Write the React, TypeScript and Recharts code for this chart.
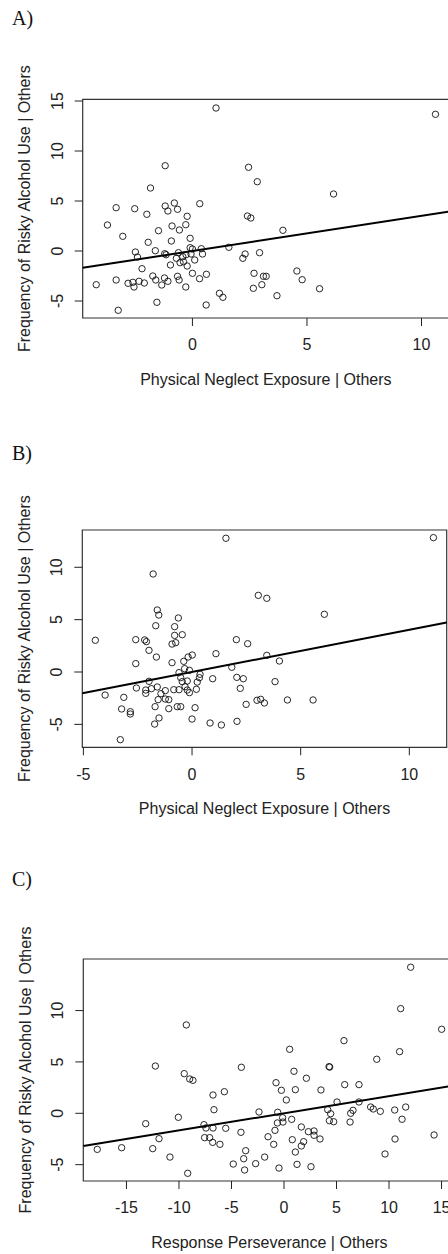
import { ScatterChart, Scatter, XAxis, YAxis, ReferenceLine, ReferenceArea } from "recharts"

const FONT = "'Liberation Sans', Arial, sans-serif"
const INK = "#222"

// A) risky alcohol use vs physical neglect exposure (added-variable plot)
const neglectA: [number, number][] = [
  [1.03, 14.3], [-1.19, 8.53], [2.45, 8.37], [2.83, 6.93], [-1.83, 6.3], [-3.33, 4.33], [-2.52, 4.23],
  [-1.19, 4.5], [-0.79, 4.8], [-1.07, 4.0], [-0.65, 4.17], [0.32, 4.73], [-1.99, 3.67], [-0.23, 3.47],
  [-3.71, 2.6], [-0.89, 2.5], [-0.29, 2.63], [-1.48, 2.03], [-0.57, 2.1], [-3.04, 1.47], [-0.1, 1.27],
  [-1.93, 0.87], [-0.92, 1.0], [-0.1, 0.33], [0, 0.2], [0.39, 0.23], [1.59, 0.37], [-2.49, -0.1],
  [-2.4, -0.6], [-1.62, 0.03], [-1.21, -0.27], [-1.15, -0.37], [-0.61, -0.17], [-0.7, -0.73],
  [-0.42, -0.57], [-0.28, -0.37], [-0.06, -0.3], [0.44, -0.3], [-0.54, -1.17], [-0.39, -1.07],
  [0.1, -0.9], [-0.96, -1.4], [-0.23, -1.5], [-2.2, -1.77], [0, -2.23], [0.61, -2.33], [-4.2, -3.37],
  [-3.33, -2.9], [-2.81, -3.23], [-2.6, -3.13], [-2.55, -3.6], [-2.33, -3.03], [-2.1, -3.2],
  [-1.73, -2.5], [-1.6, -2.9], [-1.34, -3.4], [-1.22, -2.7], [-1.07, -3.03], [-0.65, -2.53],
  [-0.58, -2.9], [-0.29, -3.6], [0.31, -2.77], [-1.55, -5.13], [-3.24, -5.93], [0.6, -5.4],
  [1.18, -4.23], [1.33, -4.63], [2.2, -0.73], [2.3, -0.3], [2.93, -0.17], [2.69, -2.23], [2.66, -3.73],
  [2.4, 3.5], [2.55, 3.3], [3.95, 2.07], [6.16, 5.7], [10.61, 13.67], [3.03, -3.37], [3.1, -2.53],
  [3.22, -2.53], [3.69, -4.47], [4.56, -2.0], [4.79, -2.87], [5.55, -3.77],
]

// B) same outcome, second model
const neglectB: [number, number][] = [
  [1.56, 12.77], [-1.79, 9.36], [-1.6, 5.92], [-1.53, 5.44], [-0.63, 5.16], [-1.67, 4.42], [-0.8, 4.33],
  [-0.8, 3.5], [-0.45, 3.56], [-0.92, 2.67], [-0.75, 2.8], [-4.45, 3.03], [-2.59, 3.09], [-2.18, 3.06],
  [-2.1, 2.9], [-1.98, 2.07], [-1.64, 1.43], [-2.59, 0.8], [-0.92, 0.89], [-0.38, 1.02], [-0.18, 1.43],
  [0.01, 1.62], [1.1, 1.75], [2.04, 3.09], [2.56, 2.7], [3.05, 7.32], [3.44, 7.04], [6.09, 5.51],
  [11.11, 12.83], [3.44, 1.59], [4.02, 1.05], [1.83, 0.45], [-0.6, -0.06], [-0.34, 0.32], [-0.12, 0.16],
  [0.37, -0.22], [0.34, -0.54], [0.24, -0.96], [-0.52, -0.54], [-0.45, -0.92], [-0.22, -0.86],
  [0.95, -0.64], [2.06, -0.51], [2.36, -0.64], [3.82, -0.92], [-1.98, -0.89], [-2.56, -1.53],
  [-2.13, -1.72], [-2.13, -2.04], [-1.87, -1.59], [-1.6, -1.43], [-1.43, -2.07], [-1.23, -1.78],
  [-0.84, -1.69], [-0.6, -1.69], [-0.32, -1.4], [-0.22, -1.72], [-0.12, -1.97], [0.2, -1.65],
  [2.22, -1.56], [-4.0, -2.2], [-3.14, -2.42], [-1.56, -2.64], [-1.23, -2.58], [-1.07, -2.64],
  [-3.24, -3.53], [-2.84, -3.79], [-2.84, -4.01], [-1.7, -3.31], [-1.07, -3.5], [-0.68, -3.31],
  [-0.52, -3.31], [0.14, -3.41], [-1.52, -4.39], [-1.72, -4.97], [0, -4.49], [0.83, -4.87],
  [1.35, -5.06], [2.07, -4.71], [2.49, -3.09], [2.99, -2.7], [3.16, -2.61], [3.33, -2.96],
  [4.39, -2.67], [5.57, -2.67], [-3.3, -6.46],
]

// C) risky alcohol use vs response perseverance
const persevC: [number, number][] = [
  [-9.3, 8.6], [-12.25, 4.6], [-4.06, 4.48], [-9.5, 3.86], [-8.98, 3.34], [-8.67, 3.21], [-6.76, 1.78],
  [-5.68, 2.1], [-6.67, 0.35], [-10.06, -0.39], [-13.17, -1.01], [-7.62, -1.11], [-7.43, -1.43],
  [-6.76, -1.43], [-5.55, -1.46], [-4.1, -1.85], [-2.38, 0.13], [-11.9, -2.47], [-7.56, -2.37],
  [-7.08, -2.37], [-6.79, -2.83], [-6.1, -3.02], [-17.78, -3.51], [-15.46, -3.35], [-12.5, -3.44],
  [-10.86, -4.26], [-3.65, -3.64], [-3.84, -4.42], [-4.83, -4.94], [-3.75, -5.52], [-2.7, -4.9],
  [-9.17, -5.84], [-1.84, -4.26], [-0.48, -5.33], [-0.98, -3.02], [-1.52, -2.28], [-0.86, -1.66],
  [-0.63, -0.94], [-0.6, 0.1], [-0.13, -0.43], [-0.1, -0.85], [0.22, 1.3], [-0.25, 2.24], [-0.76, 2.98],
  [1.08, 2.3], [2.13, 3.41], [0.73, -0.59], [0.79, -2.57], [1.65, -1.33], [2.32, -1.79], [2.86, -1.72],
  [2.86, -2.14], [1.87, -2.76], [1.65, -3.18], [3.43, -2.5], [1.08, -3.77], [1.24, -4.97], [2.57, -5.2],
  [3.52, 2.27], [5.05, 1.1], [5.78, 2.79], [7.14, 2.79], [7.14, 1.1], [4.16, 0.35], [4.44, -0.04],
  [4.32, -0.72], [4.73, -0.82], [6.35, 0], [6.57, 0.29], [6.29, -0.85], [8.25, 0.61], [8.5, 0.42],
  [9.17, 0.19], [10.54, 0.32], [11.59, 0.61], [11.24, -0.58], [10.57, -2.5], [9.62, -3.96],
  [14.29, -2.11], [12.06, 14.22], [11.11, 10.19], [15.01, 8.18], [0.54, 6.23], [5.71, 7.07],
  [11.01, 6.0], [8.83, 5.26], [4.29, 4.54], [4.35, 4.5], [0.95, 4.09],
]

// fitted slopes (intercept ~0 in added-variable plots)
const slopeA = 0.351
const slopeB = 0.4025
const slopeC = 0.1665

const xTicksA = [0, 5, 10]
const yTicksA = [-5, 0, 5, 10, 15]
const xTicksB = [-5, 0, 5, 10]
const yTicksB = [-5, 0, 5, 10]
const xTicksC = [-15, -10, -5, 0, 5, 10, 15]
const yTicksC = [-5, 0, 5, 10]

const Y_TITLE = "Frequency of Risky Alcohol Use | Others"

const ring = (p: any) => (
  <circle cx={p.cx} cy={p.cy} r={3.2} fill="none" stroke="#111" strokeWidth={0.9} />
)

const YTick = (p: any) => (
  <text
    x={p.x}
    y={p.y}
    transform={`rotate(-90 ${p.x} ${p.y})`}
    textAnchor="middle"
    fontSize={16}
    fill={INK}
    fontFamily={FONT}
  >
    {p.payload.value}
  </text>
)

interface Box { left: number; right: number; top: number; bottom: number }

interface PanelProps {
  letter: string
  letterBase: number
  top: number
  height: number
  box: Box
  xDomain: [number, number]
  yDomain: [number, number]
  xTicks: number[]
  yTicks: number[]
  points: [number, number][]
  slope: number
  xTitle: string
}

function Panel({ letter, letterBase, top, height, box, xDomain, yDomain, xTicks, yTicks, points, slope, xTitle }: PanelProps) {
  const W = 470
  const data = points.map(([x, y]) => ({ x, y }))
  const [x0, x1] = xDomain
  const [y0, y1] = yDomain
  const midY = (box.top + box.bottom) / 2 - top
  const midX = (box.left + box.right) / 2
  const xTitleY = box.bottom - top + 67

  return (
    <>
      <div
        style={{
          position: "absolute",
          left: 12,
          top: letterBase - 16.75,
          fontFamily: "'Liberation Serif', 'Times New Roman', serif",
          fontSize: 20,
          lineHeight: "20px",
          color: "#111",
        }}
      >
        {letter}
      </div>
      <div style={{ position: "absolute", left: 0, top, width: W, height }}>
        <ScatterChart
          width={W}
          height={height}
          margin={{ top: box.top - top, right: W - box.right, bottom: top + height - box.bottom - 30, left: 0 }}
        >
          <XAxis
            type="number"
            dataKey="x"
            domain={xDomain}
            ticks={xTicks}
            interval={0}
            allowDataOverflow
            axisLine={false}
            tickLine={{ stroke: INK }}
            tickSize={8}
            tickMargin={13}
            height={30}
            tick={{ fontSize: 16, fill: INK, fontFamily: FONT }}
            label={() => (
              <text x={midX} y={xTitleY} textAnchor="middle" fontSize={16} fill={INK} fontFamily={FONT}>
                {xTitle}
              </text>
            )}
          />
          <YAxis
            type="number"
            dataKey="y"
            domain={yDomain}
            ticks={yTicks}
            interval={0}
            allowDataOverflow
            axisLine={false}
            tickLine={{ stroke: INK }}
            tickSize={8}
            tickMargin={12}
            width={box.left}
            tick={YTick}
            label={() => (
              <text
                x={30.5}
                y={midY}
                transform={`rotate(-90 30.5 ${midY})`}
                textAnchor="middle"
                fontSize={16}
                fill={INK}
                fontFamily={FONT}
              >
                {Y_TITLE}
              </text>
            )}
          />
          <ReferenceArea x1={x0} x2={x1} y1={y0} y2={y1} fill="none" stroke="#333" strokeWidth={1.2} ifOverflow="visible" />
          <Scatter data={data} isAnimationActive={false} shape={ring} />
          <ReferenceLine
            segment={[{ x: x0, y: slope * x0 }, { x: x1, y: slope * x1 }]}
            stroke="#000"
            strokeWidth={2}
            ifOverflow="visible"
          />
        </ScatterChart>
      </div>
    </>
  )
}

export default function App() {
  return (
    <div
      style={{
        position: "absolute",
        left: 0,
        top: 0,
        width: 448,
        height: 1254,
        overflow: "hidden",
        background: "#fff",
      }}
    >
      <Panel
        letter="A)"
        letterBase={25}
        top={40}
        height={360}
        box={{ left: 82.7, right: 449, top: 99.3, bottom: 318 }}
        xDomain={[-4.79, 11.2]}
        yDomain={[-6.7, 15.17]}
        xTicks={xTicksA}
        yTicks={yTicksA}
        points={neglectA}
        slope={slopeA}
        xTitle="Physical Neglect Exposure | Others"
      />
      <Panel
        letter="B)"
        letterBase={460}
        top={470}
        height={360}
        box={{ left: 82.3, right: 446.7, top: 530, bottom: 747.3 }}
        xDomain={[-5.05, 11.72]}
        yDomain={[-7.19, 13.56]}
        xTicks={xTicksB}
        yTicks={yTicksB}
        points={neglectB}
        slope={slopeB}
        xTitle="Physical Neglect Exposure | Others"
      />
      <Panel
        letter="C)"
        letterBase={886}
        top={900}
        height={354}
        box={{ left: 83.3, right: 455.4, top: 959, bottom: 1181 }}
        xDomain={[-19.11, 16.32]}
        yDomain={[-6.59, 15.02]}
        xTicks={xTicksC}
        yTicks={yTicksC}
        points={persevC}
        slope={slopeC}
        xTitle="Response Perseverance | Others"
      />
    </div>
  )
}
